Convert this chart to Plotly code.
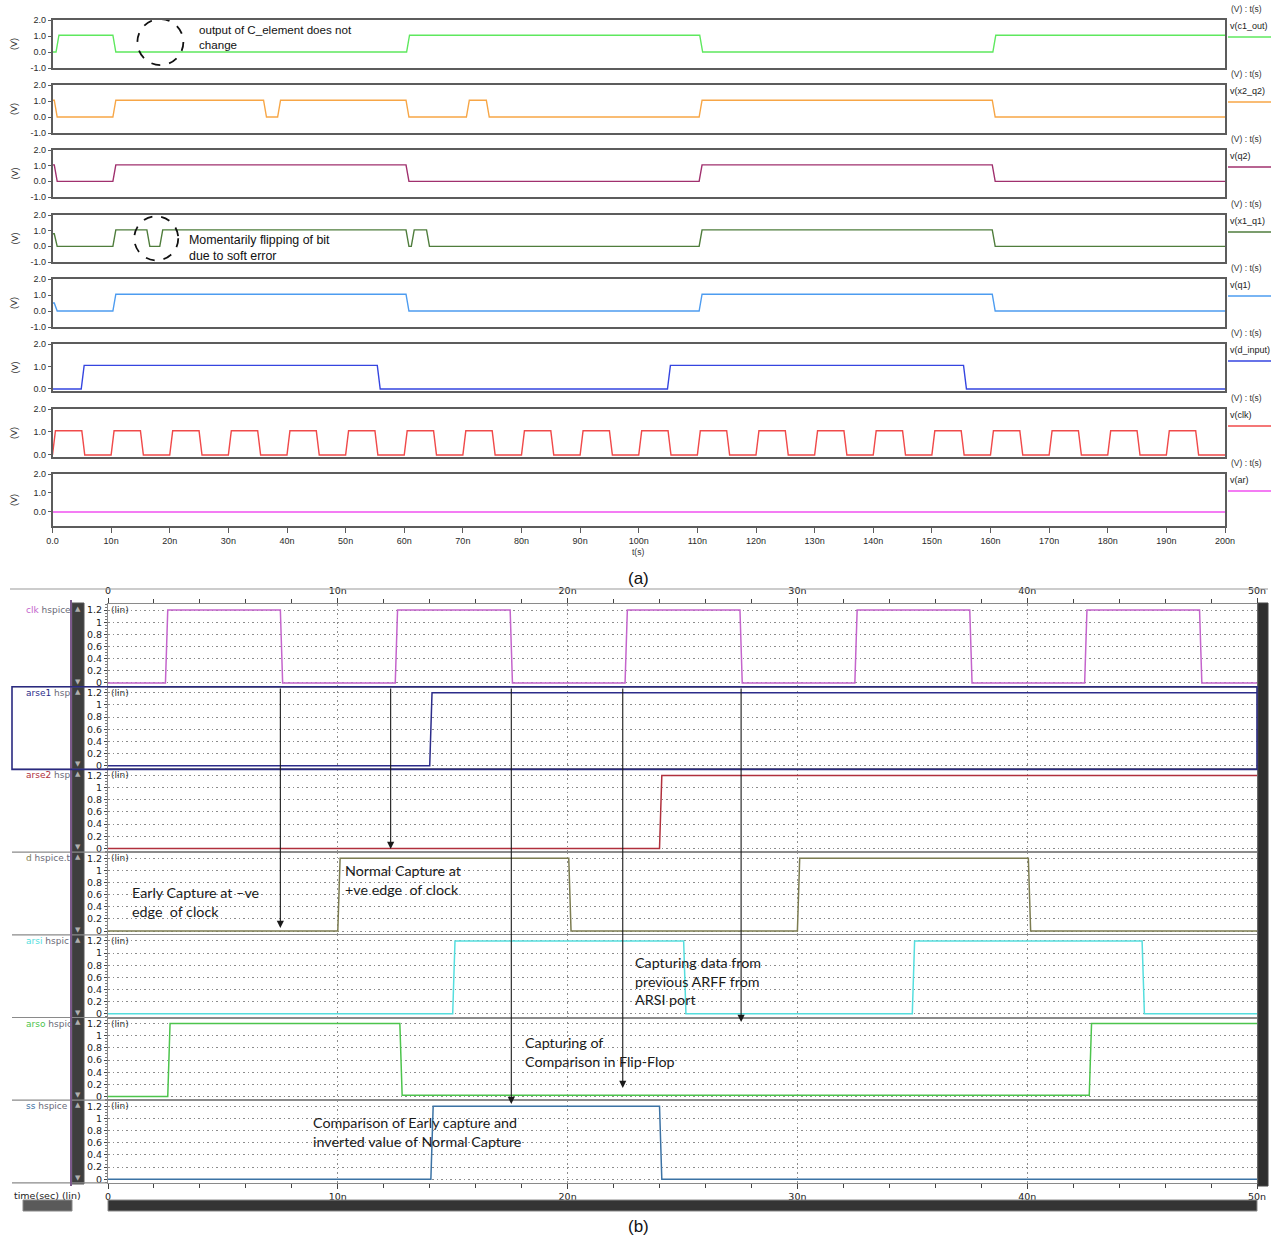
import plotly.graph_objects as go

W, H = 1277, 1239

# ================= Panel (a) data  (time in ns, volts) =================
A_NAMES = ["v(c1_out)", "v(x2_q2)", "v(q2)", "v(x1_q1)", "v(q1)", "v(d_input)", "v(clk)", "v(ar)"]
A_COLORS = ["#5ee85e", "#f7a646", "#a0306e", "#4f7d3c", "#4d9cf0", "#3545e0", "#f04a4a", "#f050f0"]

c1_out_init = 0.0
c1_out_edges = [(0.6, 1.05), (10.3, 0.0), (60.4, 1.05), (110.4, 0.0), (160.4, 1.05)]
x2_q2_init = 1.05
x2_q2_edges = [(0.3, 0.0), (10.3, 1.05), (36.0, 0.0), (38.4, 1.05), (60.3, 0.0), (70.6, 1.05),
               (74.0, 0.0), (110.3, 1.05), (160.3, 0.0)]
q2_init = 1.05
q2_edges = [(0.3, 0.0), (10.3, 1.05), (60.3, 0.0), (110.3, 1.05), (160.3, 0.0)]
x1_q1_init = 0.8
x1_q1_edges = [(0.3, 0.0), (10.3, 1.05), (16.1, 0.0), (18.3, 1.05), (60.3, 0.0), (61.2, 1.05),
               (63.8, 0.0), (110.3, 1.05), (160.3, 0.0)]
q1_init = 0.5
q1_edges = [(0.3, 0.0), (10.3, 1.05), (60.3, 0.0), (110.3, 1.05), (160.3, 0.0)]
d_input_init = 0.0
d_input_edges = [(4.9, 1.05), (55.4, 0.0), (104.9, 1.05), (155.4, 0.0)]
clk_a_init = 0.0
clk_a_edges = [(0, 1.05), (5, 0.0), (10, 1.05), (15, 0.0), (20, 1.05), (25, 0.0), (30, 1.05), (35, 0.0),
               (40, 1.05), (45, 0.0), (50, 1.05), (55, 0.0), (60, 1.05), (65, 0.0), (70, 1.05), (75, 0.0),
               (80, 1.05), (85, 0.0), (90, 1.05), (95, 0.0), (100, 1.05), (105, 0.0), (110, 1.05), (115, 0.0),
               (120, 1.05), (125, 0.0), (130, 1.05), (135, 0.0), (140, 1.05), (145, 0.0), (150, 1.05), (155, 0.0),
               (160, 1.05), (165, 0.0), (170, 1.05), (175, 0.0), (180, 1.05), (185, 0.0), (190, 1.05), (195, 0.0)]
ar_init = 0.0
ar_edges = []

A_SIGNALS = [(c1_out_init, c1_out_edges), (x2_q2_init, x2_q2_edges), (q2_init, q2_edges),
             (x1_q1_init, x1_q1_edges), (q1_init, q1_edges), (d_input_init, d_input_edges),
             (clk_a_init, clk_a_edges), (ar_init, ar_edges)]

A_XTICKS = [0, 10, 20, 30, 40, 50, 60, 70, 80, 90, 100, 110, 120, 130, 140, 150, 160, 170, 180, 190, 200]
A_XTICKTEXT = ["0.0", "10n", "20n", "30n", "40n", "50n", "60n", "70n", "80n", "90n", "100n", "110n",
               "120n", "130n", "140n", "150n", "160n", "170n", "180n", "190n", "200n"]
A_YTICKS_4 = [2.0, 1.0, 0.0, -1.0]
A_YTICKTEXT_4 = ["2.0", "1.0", "0.0", "-1.0"]
A_YTICKS_3 = [2.0, 1.0, 0.0]
A_YTICKTEXT_3 = ["2.0", "1.0", "0.0"]
A_XLABEL = "t(s)"
A_UNIT_LABEL = "(V) : t(s)"
A_YLABEL = "(V)"
A_NOTE1 = "output of C_element does not<br>change"
A_NOTE2 = "Momentarily flipping of bit<br>due to soft error"

# ================= Panel (b) data  (time in ns, volts) =================
B_NAMES = ["clk", "arse1", "arse2", "d", "arsi", "arso", "ss"]
B_SUFFIX = ["hspice", "hsp", "hsp", "hspice.t", "hspic", "hspic", "hspice"]
B_COLORS = ["#c464cc", "#2c2c8a", "#b0303c", "#7c7c50", "#55dede", "#4cc44c", "#3b72a4"]

clk_b_init = 0.0
clk_b_edges = [(2.5, 1.2), (7.5, 0.0), (12.5, 1.2), (17.5, 0.0), (22.5, 1.2), (27.5, 0.0),
               (32.5, 1.2), (37.5, 0.0), (42.5, 1.2), (47.5, 0.0)]
arse1_init = 0.0
arse1_edges = [(14.0, 1.2)]
arse2_init = 0.0
arse2_edges = [(24.0, 1.2)]
d_b_init = 0.0
d_b_edges = [(10.0, 1.2), (20.05, 0.0), (30.0, 1.2), (40.05, 0.0)]
arsi_init = 0.0
arsi_edges = [(15.0, 1.2), (25.05, 0.0), (35.0, 1.2), (45.0, 0.0)]
arso_init = 0.0
arso_edges = [(2.6, 1.2), (12.7, 0.02), (42.7, 1.2)]
ss_init = 0.0
ss_edges = [(14.05, 1.2), (24.0, 0.0)]

B_SIGNALS = [(clk_b_init, clk_b_edges), (arse1_init, arse1_edges), (arse2_init, arse2_edges),
             (d_b_init, d_b_edges), (arsi_init, arsi_edges), (arso_init, arso_edges), (ss_init, ss_edges)]

B_XTICKS = [0, 10, 20, 30, 40, 50]
B_XTICKTEXT = ["0", "10n", "20n", "30n", "40n", "50n"]
B_YTICKS = [0, 0.2, 0.4, 0.6, 0.8, 1.0, 1.2]
B_YTICKTEXT = ["0", "0.2", "0.4", "0.6", "0.8", "1", "1.2"]
B_XLABEL = "time(sec) (lin)"
B_SCALE_LABEL = "(lin)"

# arrows: (time ns where drawn, bottom pixel of arrow head)
B_ARROW_T = [7.5, 12.3, 17.55, 22.4, 27.55]
B_ARROW_END = [928, 849, 1104, 1088, 1022]
B_NOTES = [
    ("Early Capture at –ve<br>edge  of clock", 130, 902),
    ("Normal Capture at<br>+ve edge  of clock", 343, 880),
    ("Capturing data from<br>previous ARFF from<br>ARSI port", 633, 981),
    ("Capturing of<br>Comparison in Flip-Flop", 523, 1052),
    ("Comparison of Early capture and<br>inverted value of Normal Capture", 311, 1132),
]

# ================= helpers =================
def wave(init, edges, end, slew):
    t, v, cur = [0.0], [init], init
    for te, lv in edges:
        if te > 0:
            t.append(te)
            v.append(cur)
        t.append(te + slew)
        v.append(lv)
        cur = lv
    t.append(end)
    v.append(cur)
    return t, v


def px(xp):
    return xp / W


def py(yp):
    return 1 - yp / H


FA = "Liberation Sans, Arial, sans-serif"
FB = "DejaVu Sans, sans-serif"
FN = "Lato, Calibri, sans-serif"


def note(x, y, text, size, color="#222", family=None, xanchor="center", yanchor="middle", **kw):
    d = dict(x=px(x), y=py(y), xref="paper", yref="paper", text=text, showarrow=False,
             xanchor=xanchor, yanchor=yanchor, font=dict(family=family or FA, size=size, color=color))
    d.update(kw)
    return d


fig = go.Figure()
layout = dict(width=W, height=H, margin=dict(l=0, r=0, t=0, b=0, autoexpand=False),
              paper_bgcolor="white", plot_bgcolor="white", showlegend=False)
shapes, annos = [], []

# ---------------- Panel (a) ----------------
A_ROWS = [(20, 68, -1.0, 2.0), (85, 133, -1.0, 2.0), (150, 197, -1.0, 2.0), (215, 262, -1.0, 2.0),
          (279, 327, -1.0, 2.0), (344, 391, -0.09, 2.0), (409, 457, -0.09, 2.0), (474, 526, -0.74, 2.0)]
AX0, AX1 = 52.5, 1225

for i, (top, bot, ymin, ymax) in enumerate(A_ROWS):
    n = i + 1
    xs = "" if n == 1 else str(n)
    last = (i == len(A_ROWS) - 1)
    wide = ymin <= -0.9
    layout["xaxis" + xs] = dict(
        domain=[px(AX0), px(AX1)], range=[0, 200], anchor="y" + xs,
        showline=True, mirror=True, linecolor="#5c5c5c", linewidth=1.5,
        showgrid=False, zeroline=False, tickmode="array", tickvals=A_XTICKS, ticktext=A_XTICKTEXT,
        showticklabels=last, ticks="outside" if last else "", ticklen=5, tickcolor="#5c5c5c",
        tickfont=dict(family=FA, size=9, color="#2a2a2a"))
    if n > 1:
        layout["xaxis" + xs]["matches"] = "x"
    layout["yaxis" + xs] = dict(
        domain=[py(bot), py(top)], range=[ymin, ymax], anchor="x" + xs,
        showline=True, mirror=True, linecolor="#5c5c5c", linewidth=1.5,
        showgrid=False, zeroline=False, tickmode="array",
        tickvals=A_YTICKS_4 if wide else A_YTICKS_3,
        ticktext=A_YTICKTEXT_4 if wide else A_YTICKTEXT_3,
        ticks="outside", ticklen=3, tickcolor="#5c5c5c",
        tickfont=dict(family=FA, size=9, color="#2a2a2a"))
    init, edges = A_SIGNALS[i]
    t, v = wave(init, edges, 200, 0.5)
    fig.add_trace(go.Scatter(x=t, y=v, mode="lines", line=dict(color=A_COLORS[i], width=1.4),
                             xaxis="x" + xs, yaxis="y" + xs, hoverinfo="skip"))
    annos.append(note(14, (top + bot) / 2, A_YLABEL, 9, "#333", textangle=-90))
    annos.append(note(1229, top - 11, A_UNIT_LABEL, 8.5, "#333", xanchor="left"))
    annos.append(note(1228, top + 6, A_NAMES[i], 9, "#222", xanchor="left"))
    shapes.append(dict(type="line", xref="paper", yref="paper", x0=px(1228), x1=px(1271),
                       y0=py(top + 17), y1=py(top + 17), line=dict(color=A_COLORS[i], width=1.4)))

annos.append(note(638, 552, A_XLABEL, 8.5, "#333"))
annos.append(note(638, 578, "(a)", 17, "#111"))

# dashed circles (pixel-sized, anchored to data)
shapes.append(dict(type="circle", xref="x", yref="y", xsizemode="pixel", ysizemode="pixel",
                   xanchor=18.4, yanchor=0.62, x0=-23, x1=23, y0=-23, y1=23,
                   line=dict(color="#111", width=1.8, dash="dash")))
shapes.append(dict(type="circle", xref="x4", yref="y4", xsizemode="pixel", ysizemode="pixel",
                   xanchor=17.7, yanchor=0.51, x0=-22, x1=22, y0=-22, y1=22,
                   line=dict(color="#111", width=1.8, dash="dash")))
annos.append(note(197, 37.5, A_NOTE1, 11.6, "#111", xanchor="left", align="left"))
annos.append(note(187, 248.5, A_NOTE2, 12.4, "#111", xanchor="left", align="left"))

# ---------------- Panel (b) ----------------
BX0, BX1 = 108, 1257
B_TOP0, B_H = 604, 82.7
GRID_DASH = "1.5px,3px"
for i in range(7):
    n = 9 + i
    xs = str(n)
    top = B_TOP0 + i * B_H
    bot = top + B_H
    first, last = (i == 0), (i == 6)
    layout["xaxis" + xs] = dict(
        domain=[px(BX0), px(BX1)], range=[0, 50], anchor="y" + xs,
        showline=True, mirror=True, linecolor="#8a8a8a", linewidth=1.2,
        showgrid=True, gridcolor="#8c8c8c", griddash=GRID_DASH, gridwidth=1, zeroline=False,
        tickmode="array", tickvals=B_XTICKS, ticktext=B_XTICKTEXT,
        side="top" if first else "bottom",
        showticklabels=first or last, ticks="outside" if (first or last) else "",
        ticklen=5, tickcolor="#444",
        tickfont=dict(family=FB, size=9.5, color="#222"))
    if first or last:
        layout["xaxis" + xs]["minor"] = dict(dtick=2, tick0=0, ticks="outside", ticklen=4,
                                             tickcolor="#444", showgrid=False)
    if n > 9:
        layout["xaxis" + xs]["matches"] = "x9"
    layout["yaxis" + xs] = dict(
        domain=[py(bot), py(top)], range=[-0.061, 1.30], anchor="x" + xs,
        showline=True, mirror=True, linecolor="#8a8a8a", linewidth=1.2,
        showgrid=True, gridcolor="#8c8c8c", griddash=GRID_DASH, gridwidth=1, zeroline=False,
        tickmode="array", tickvals=B_YTICKS, ticktext=B_YTICKTEXT,
        ticks="outside", ticklen=3, tickcolor="#444",
        minor=dict(dtick=0.05, ticks="outside", ticklen=2, tickcolor="#777", showgrid=False),
        tickfont=dict(family=FB, size=9.5, color="#222"))
    init, edges = B_SIGNALS[i]
    t, v = wave(init, edges, 50, 0.1)
    fig.add_trace(go.Scatter(x=t, y=v, mode="lines", line=dict(color=B_COLORS[i], width=1.5),
                             xaxis="x" + xs, yaxis="y" + xs, hoverinfo="skip"))
    annos.append(note(24, top + 6,
                      f'<span style="color:{B_COLORS[i]}">{B_NAMES[i]}</span> '
                      f'<span style="color:#6a6a78">{B_SUFFIX[i]}</span>',
                      9, family=FB, xanchor="left"))
    annos.append(dict(x=0, y=1.2, xref="x" + xs, yref="y" + xs, xanchor="left", yanchor="middle",
                      text=B_SCALE_LABEL, showarrow=False, xshift=1,
                      font=dict(family=FB, size=9, color="#333")))
    shapes.append(dict(type="line", xref="paper", yref="paper", x0=px(12), x1=px(BX0),
                       y0=py(bot), y1=py(bot), line=dict(color="#8a8a8a", width=1.2)))
    annos.append(note(78, top + 5, "▲", 7, "#b0b0b0", family=FB))
    annos.append(note(78, bot - 5, "▼", 7, "#b0b0b0", family=FB))

# frame / decorations for panel (b)
shapes.append(dict(type="line", xref="paper", yref="paper", x0=px(10), x1=px(1268),
                   y0=py(589), y1=py(589), line=dict(color="#9a9a9a", width=1.2)))
shapes.append(dict(type="rect", xref="paper", yref="paper", x0=px(72), x1=px(84),
                   y0=py(1184), y1=py(603), fillcolor="#3e3e3e", line=dict(color="#555", width=1),
                   layer="below"))
shapes.append(dict(type="line", xref="paper", yref="paper", x0=px(71), x1=px(71),
                   y0=py(1186), y1=py(600), line=dict(color="#7c5a8c", width=2)))
shapes.append(dict(type="rect", xref="paper", yref="paper", x0=px(1258), x1=px(1268),
                   y0=py(1186), y1=py(603), fillcolor="#2e2e2e", line=dict(color="#444", width=1)))
shapes.append(dict(type="rect", xref="paper", yref="paper", x0=px(12), x1=px(1257),
                   y0=py(B_TOP0 + 2 * B_H), y1=py(B_TOP0 + B_H), line=dict(color="#2a2a80", width=1.6)))
shapes.append(dict(type="rect", xref="paper", yref="paper", x0=px(108), x1=px(1257),
                   y0=py(1211), y1=py(1200), fillcolor="#343434", line=dict(color="#888", width=1)))
shapes.append(dict(type="rect", xref="paper", yref="paper", x0=px(23), x1=px(72),
                   y0=py(1211), y1=py(1200), fillcolor="#5a5a5a", line=dict(color="#888", width=1)))
annos.append(note(12, 1195, B_XLABEL, 9.5, "#222", family=FB, xanchor="left"))
annos.append(note(638, 1226, "(b)", 17, "#111"))

# arrows
for tx, yend in zip(B_ARROW_T, B_ARROW_END):
    annos.append(dict(x=tx, y=py(yend), xref="x9", yref="paper", text="", showarrow=True,
                      ax=0, ay=-(yend - 687), axref="pixel", ayref="pixel",
                      arrowhead=2, arrowsize=1.3, arrowwidth=1.1, arrowcolor="#1a1a1a", standoff=0))
for txt, xl, yc in B_NOTES:
    annos.append(note(xl, yc, txt, 14.3, "#1a1a1a", family=FN, xanchor="left", align="left"))

layout["shapes"] = shapes
layout["annotations"] = annos
fig.update_layout(**layout)
fig.write_html("out.html", config={"displayModeBar": False},
               post_script="document.body.style.margin='0px';")
